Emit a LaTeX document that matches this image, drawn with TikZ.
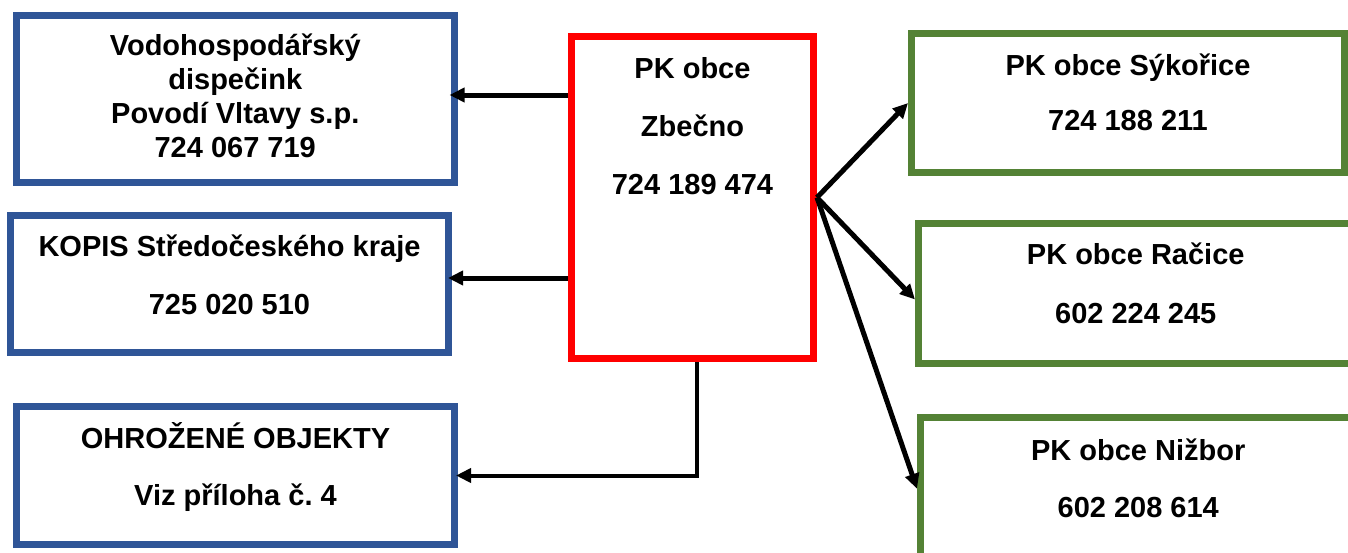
\documentclass[tikz,border=0pt]{standalone}
\usepackage{fontspec}
\setmainfont{Liberation Sans}
\usepackage{xcolor}
\usetikzlibrary{positioning,calc,arrows.meta}

\definecolor{boxblue}{HTML}{2F5597}
\definecolor{boxgreen}{HTML}{548235}
\definecolor{boxred}{HTML}{FF0000}

\tikzset{
    box/.style={draw, line width=7pt, rectangle, inner sep=0pt},
    bluebox/.style={box, draw=boxblue},
    greenbox/.style={box, draw=boxgreen},
    redbox/.style={box, draw=boxred},
    txt/.style={anchor=base, inner sep=0pt, font=\fontsize{29}{34}\selectfont\bfseries\frenchspacing},
    arr/.style={draw=black, line width=5pt, -{Triangle[length=15pt,width=14pt]}}
}

\begin{document}
\begin{tikzpicture}[x=1pt,y=-1pt]
    \useasboundingbox (0,0) rectangle (1348,552);

    % Boxes
    \node[bluebox, minimum width=437.5pt, minimum height=167pt] (vhd) at (235.25,99) {};
    \node[bluebox, minimum width=438pt, minimum height=137pt] (kopis) at (229.5,284) {};
    \node[bluebox, minimum width=438pt, minimum height=138pt] (ohr) at (235.5,475.5) {};
    \node[redbox, minimum width=242pt, minimum height=322pt] (zbec) at (692.5,197.5) {};
    \node[greenbox, minimum width=433pt, minimum height=139pt] (syk) at (1128,103) {};
    \node[greenbox, minimum width=434.5pt, minimum height=140pt] (rac) at (1135.75,293.5) {};
    \node[greenbox, minimum width=435.5pt, minimum height=142.5pt] (niz) at (1138.25,488.75) {};

    % Texts
    \foreach \t/\yy [count=\i] in {Vodohospodářský/55, dispečink/89, Povodí Vltavy s.p./123, 724 067 719/157}
        \node[txt] (vhd-\i) at (vhd.center |- 0,\yy) {\t};
    \foreach \t/\yy [count=\i] in {KOPIS Středočeského kraje/256, 725 020 510/314}
        \node[txt] (kopis-\i) at (kopis.center |- 0,\yy) {\t};
    \foreach \t/\yy [count=\i] in {OHROŽENÉ OBJEKTY/448, Viz příloha č. 4/505}
        \node[txt] (ohr-\i) at (ohr.center |- 0,\yy) {\t};
    \foreach \t/\yy [count=\i] in {PK obce/78, Zbečno/136, 724 189 474/194}
        \node[txt] (zbec-\i) at (zbec.center |- 0,\yy) {\t};
    \foreach \t/\yy [count=\i] in {PK obce Sýkořice/75, 724 188 211/130}
        \node[txt] (syk-\i) at (syk.center |- 0,\yy) {\t};
    \foreach \t/\yy [count=\i] in {PK obce Račice/264, 602 224 245/323}
        \node[txt] (rac-\i) at (rac.center |- 0,\yy) {\t};
    \foreach \t/\yy [count=\i] in {PK obce Nižbor/460, 602 208 614/517}
        \node[txt] (niz-\i) at (niz.center |- 0,\yy) {\t};

    % Arrows to the left
    \draw[arr] (zbec.west |- 0,95) -- ([xshift=-8pt]vhd.east |- 0,95);
    \draw[arr] (zbec.west |- 0,278) -- ([xshift=-4pt]kopis.east |- 0,278);
    \draw[arr, line width=4pt] ([xshift=4.5pt]zbec.south) |- ([xshift=-2pt]ohr.east);

    % Arrows to the right
    \draw[arr] (zbec.east) -- (syk.west);
    \draw[arr] (zbec.east) -- ([yshift=-6pt]rac.west);
    \draw[arr] (zbec.east) -- (niz.west);
\end{tikzpicture}
\end{document}
